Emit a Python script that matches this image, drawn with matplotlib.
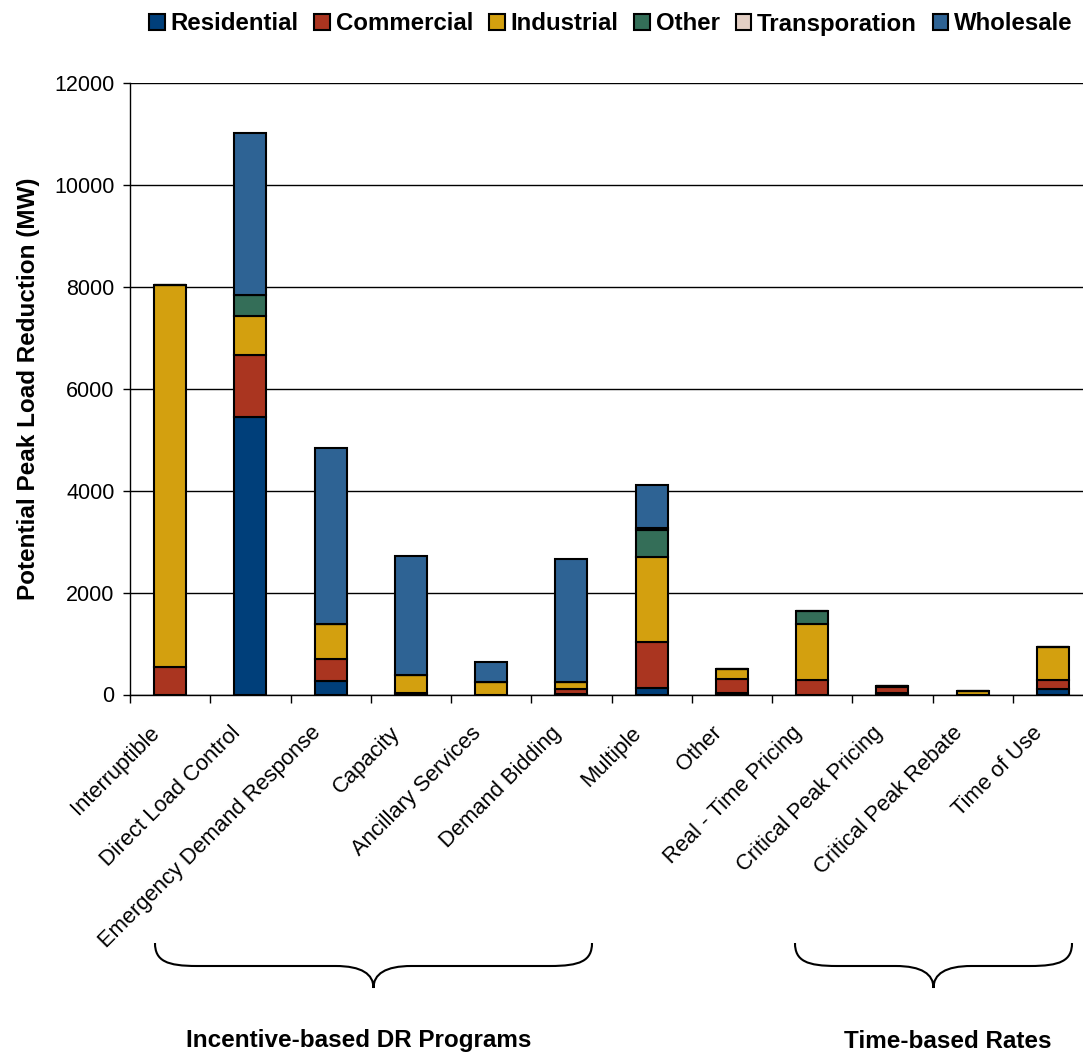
import numpy as np
import matplotlib
matplotlib.use("Agg")
import matplotlib.pyplot as plt
from matplotlib.patches import Patch, PathPatch
from matplotlib.path import Path
from matplotlib.transforms import ScaledTranslation

plt.rcParams['font.family'] = ['Liberation Sans', 'DejaVu Sans']

# data (MW)
categories = ['Interruptible', 'Direct Load Control', 'Emergency Demand Response',
              'Capacity', 'Ancillary Services', 'Demand Bidding', 'Multiple', 'Other',
              'Real - Time Pricing', 'Critical Peak Pricing', 'Critical Peak Rebate',
              'Time of Use']
residential = [0, 5440, 270, 20, 0, 10, 130, 30, 0, 30, 0, 100]
commercial = [530, 1215, 425, 10, 0, 90, 895, 270, 275, 120, 0, 175]
industrial = [7500, 780, 685, 355, 245, 150, 1675, 195, 1105, 15, 70, 650]
other = [0, 400, 0, 0, 0, 0, 525, 0, 260, 0, 0, 0]
transportation = [0, 0, 0, 0, 0, 0, 40, 0, 0, 0, 0, 0]
wholesale = [0, 3190, 3455, 2335, 400, 2400, 845, 0, 0, 0, 0, 0]

series_names = ['Residential', 'Commercial', 'Industrial', 'Other', 'Transporation', 'Wholesale']
series = [residential, commercial, industrial, other, transportation, wholesale]
colors = ['#003f7a', '#aa3520', '#d3a00f', '#346e58', '#e3cfc4', '#2e6394']

group_labels = ['Incentive-based DR Programs', 'Time-based Rates']

W, H = 1083, 1053
fig = plt.figure(figsize=(W / 100, H / 100), dpi=100)
# axes runs a little past the right edge, like the original crop
ax = fig.add_axes([130 / W, 1 - 694.5 / H, 963 / W, (694.5 - 83) / H])

x = np.arange(len(categories))
bottom = np.zeros(len(categories))
for name, vals, c in zip(series_names, series, colors):
    vals = np.array(vals, dtype=float)
    ax.bar(x, vals, 0.4, bottom=bottom, color=c, edgecolor='black', linewidth=1.5,
           zorder=3, label=name)
    bottom += vals

ax.set_xlim(-0.5, len(categories) - 0.5)
ax.set_ylim(0, 12000)
ax.set_yticks(np.arange(0, 12001, 2000))
ax.yaxis.grid(True, color='black', linewidth=1)
ax.set_axisbelow(True)
for s in ['top', 'right']:
    ax.spines[s].set_visible(False)
ax.spines['left'].set_linewidth(1)
ax.spines['bottom'].set_linewidth(1)

ax.tick_params(axis='y', labelsize=15.5, length=5, width=1, pad=6)
ax.set_xticks(x)
ax.set_xticklabels(categories, rotation=45, ha='right', rotation_mode='anchor', fontsize=15.8)
ax.tick_params(axis='x', which='major', length=0, pad=20)
ax.set_xticks(np.arange(-0.5, len(categories), 1), minor=True)
ax.tick_params(axis='x', which='minor', length=6, width=1)
for lab in ax.get_xticklabels():
    lab.set_transform(lab.get_transform() + ScaledTranslation(-15 / 72, 0, fig.dpi_scale_trans))

ax.set_ylabel('Potential Peak Load Reduction (MW)', fontsize=17.5, fontweight='bold', labelpad=10)

handles = [Patch(facecolor=c, edgecolor='black', linewidth=1.5) for c in colors]
fig.legend(handles, series_names, loc='center', bbox_to_anchor=(611 / W, 1 - 24 / H),
           ncol=6, frameon=False, handlelength=0.65, handleheight=0.65, handletextpad=0.25,
           columnspacing=0.65, prop={'weight': 'bold', 'size': 17.3})


def brace(x0, x1, ytop, yflat, ytip):
    xm = (x0 + x1) / 2
    pts = [(x0, ytop), (x0, ytop + 18), (x0 + 12, yflat), (x0 + 42, yflat),
           (xm - 38, yflat),
           (xm - 12, yflat), (xm, ytip - 14), (xm, ytip),
           (xm, ytip - 14), (xm + 12, yflat), (xm + 38, yflat),
           (x1 - 42, yflat),
           (x1 - 12, yflat), (x1, ytop + 18), (x1, ytop)]
    codes = [Path.MOVETO, Path.CURVE4, Path.CURVE4, Path.CURVE4, Path.LINETO,
             Path.CURVE4, Path.CURVE4, Path.CURVE4,
             Path.CURVE4, Path.CURVE4, Path.CURVE4, Path.LINETO,
             Path.CURVE4, Path.CURVE4, Path.CURVE4]
    pts = [(px / W, 1 - py / H) for px, py in pts]
    fig.patches.append(PathPatch(Path(pts, codes), transform=fig.transFigure,
                                 facecolor='none', edgecolor='black', linewidth=1.5))


brace(155, 592, 943, 966, 988)
brace(795, 1072, 943, 966, 988)

fig.text(359 / W, 1 - 1041 / H, group_labels[0], ha='center', va='center',
         fontsize=17.5, fontweight='bold')
fig.text(948 / W, 1 - 1041 / H, group_labels[1], ha='center', va='center',
         fontsize=17.5, fontweight='bold')

fig.savefig('out.png', dpi=100)
